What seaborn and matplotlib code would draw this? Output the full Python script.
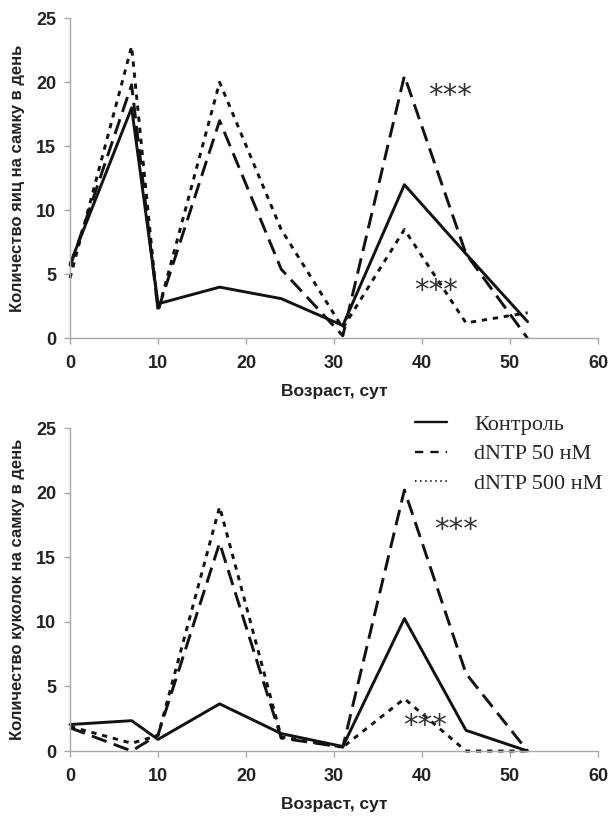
import matplotlib
matplotlib.use("Agg")
import matplotlib.pyplot as plt
from matplotlib.lines import Line2D
import pandas as pd
import seaborn as sns

# Sampling days (age, days)
days = [0, 7, 10, 17, 24, 31, 38, 45, 52]

# Eggs per female per day
eggs_control = [5.8, 18.0, 2.7, 4.0, 3.1, 1.0, 12.0, 6.6, 1.3]
eggs_50 = [5.6, 19.8, 2.2, 17.0, 5.4, 0.2, 20.5, 6.6, 0.0]
eggs_500 = [4.7, 22.8, 2.1, 20.0, 8.5, 0.8, 8.5, 1.2, 2.0]

# Pupae per female per day
pupae_control = [2.05, 2.35, 0.9, 3.65, 1.35, 0.35, 10.25, 1.6, 0.0]
pupae_50 = [1.8, 0.0, 1.25, 16.1, 1.0, 0.3, 20.2, 6.0, 0.0]
pupae_500 = [1.9, 0.6, 1.2, 18.9, 1.1, 0.3, 4.05, 0.0, 0.0]

groups = ["Контроль", "dNTP 50 нМ", "dNTP 500 нМ"]
x_ticks = [0, 10, 20, 30, 40, 50, 60]
y_ticks = [0, 5, 10, 15, 20, 25]
x_label = "Возраст, сут"
y_label_eggs = "Количество яиц на самку в день"
y_label_pupae = "Количество куколок на самку в день"
stars = "***"


def long_table(series):
    rows = []
    for name, vals in zip(groups, series):
        for d, v in zip(days, vals):
            rows.append({"day": d, "value": v, "group": name})
    return pd.DataFrame(rows)


sns.set_theme(style="white")
plt.rcParams["font.family"] = ["Liberation Sans", "DejaVu Sans"]

LW = 2.1
line_dashes = {
    groups[0]: "",
    groups[1]: (5.4, 2.6),
    groups[2]: (1.8, 2.0),
}

fig = plt.figure(figsize=(6.10, 8.19), dpi=100)
ax_top = fig.add_axes([0.1148, 0.5869, 0.8655, 0.3908])
ax_bot = fig.add_axes([0.1148, 0.0830, 0.8655, 0.3944])

panels = [
    (ax_top, long_table([eggs_control, eggs_50, eggs_500]), y_label_eggs,
     [(43.2, 18.9), (41.6, 3.7)]),
    (ax_bot, long_table([pupae_control, pupae_50, pupae_500]), y_label_pupae,
     [(43.9, 17.1), (40.4, 1.9)]),
]

spine_grey = "#a8a8a8"
for ax, df, ylab, star_pos in panels:
    sns.lineplot(data=df, x="day", y="value", style="group",
                 dashes=line_dashes, color="#111111", linewidth=LW,
                 legend=False, ax=ax, sort=False)
    ax.set_xlim(0, 60)
    ax.set_ylim(0, 25)
    ax.set_xticks(x_ticks)
    ax.set_yticks(y_ticks)
    ax.set_xticklabels([str(t) for t in x_ticks], fontweight="bold",
                       fontsize=13, color="#222222")
    ax.set_yticklabels([str(t) for t in y_ticks], fontweight="bold",
                       fontsize=13, color="#222222")
    ax.tick_params(axis="x", direction="out", length=4, width=1,
                   color=spine_grey, pad=8, bottom=True)
    ax.tick_params(axis="y", direction="out", length=4, width=1,
                   color=spine_grey, pad=6, left=True)
    for side in ("top", "right"):
        ax.spines[side].set_visible(False)
    for side in ("left", "bottom"):
        ax.spines[side].set_color(spine_grey)
        ax.spines[side].set_linewidth(1.0)
    ax.set_xlabel(x_label, fontweight="bold", fontsize=12.5,
                  color="#222222", labelpad=9)
    ax.set_ylabel(ylab, fontweight="bold", fontsize=12,
                  color="#222222", labelpad=8)
    for sx, sy in star_pos:
        ax.text(sx, sy, stars, ha="center", va="center", fontsize=21,
                color="#333333", family="DejaVu Sans")
    ax.patch.set_alpha(0)
    for ln in ax.lines:
        ln.set_clip_on(False)

handles = [
    Line2D([], [], color="#111111", lw=1.7),
    Line2D([], [], color="#111111", lw=1.7, dashes=(3.5, 3.0)),
    Line2D([], [], color="#111111", lw=1.3, dashes=(0.8, 2.0)),
]
fig.legend(handles, groups, loc="upper left",
           bbox_to_anchor=(0.666, 0.505), frameon=False,
           prop={"family": "Liberation Serif", "size": 16},
           handlelength=1.45, handletextpad=1.2, labelspacing=0.4,
           borderaxespad=0)

fig.savefig("out.png", dpi=100)
